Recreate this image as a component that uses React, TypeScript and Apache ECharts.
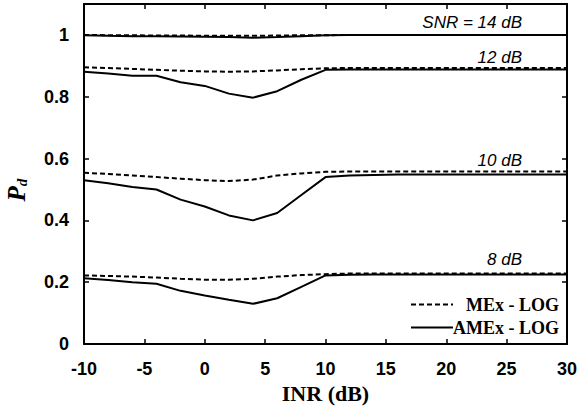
import React, { useEffect, useRef } from "react";
import * as echarts from "echarts";

const inr = [-10, -8, -6, -4, -2, 0, 2, 4, 6, 8, 10, 12, 14, 16, 18, 20, 22, 24, 26, 28, 30];

const mex14 = [1.0, 0.999, 0.999, 0.998, 0.998, 0.997, 0.997, 0.997, 0.998, 0.999, 0.999, 1.0, 1.0, 1.0, 1.0, 1.0, 1.0, 1.0, 1.0, 1.0, 1.0];
const amex14 = [0.999, 0.997, 0.996, 0.996, 0.995, 0.994, 0.993, 0.991, 0.993, 0.996, 0.999, 1.0, 1.0, 1.0, 1.0, 1.0, 1.0, 1.0, 1.0, 1.0, 1.0];

const mex12 = [0.895, 0.893, 0.89, 0.887, 0.884, 0.882, 0.881, 0.882, 0.885, 0.889, 0.892, 0.893, 0.893, 0.893, 0.893, 0.893, 0.893, 0.893, 0.893, 0.893, 0.893];
const amex12 = [0.881, 0.875, 0.868, 0.868, 0.847, 0.835, 0.81, 0.797, 0.818, 0.855, 0.887, 0.888, 0.888, 0.888, 0.888, 0.888, 0.888, 0.888, 0.888, 0.888, 0.888];

const mex10 = [0.554, 0.55, 0.545, 0.54, 0.535, 0.53, 0.527, 0.532, 0.545, 0.552, 0.557, 0.558, 0.558, 0.558, 0.558, 0.558, 0.558, 0.558, 0.558, 0.558, 0.558];
const amex10 = [0.53, 0.52, 0.508, 0.5, 0.467, 0.445, 0.416, 0.4, 0.424, 0.482, 0.54, 0.545, 0.547, 0.548, 0.548, 0.548, 0.548, 0.548, 0.548, 0.548, 0.548];

const mex8 = [0.222, 0.22, 0.218, 0.215, 0.211, 0.208, 0.208, 0.211, 0.218, 0.223, 0.226, 0.228, 0.228, 0.228, 0.228, 0.228, 0.228, 0.228, 0.228, 0.228, 0.228];
const amex8 = [0.213, 0.207, 0.2, 0.195, 0.172, 0.157, 0.143, 0.13, 0.148, 0.185, 0.222, 0.224, 0.225, 0.225, 0.225, 0.225, 0.225, 0.225, 0.225, 0.225, 0.225];

const snrLabels = ["SNR = 14 dB", "12 dB", "10 dB", "8 dB"];
const labelY = [22, 57, 160, 259];

const MEX = "MEx - LOG";
const AMEX = "AMEx - LOG";

export default function App() {
  const ref = useRef<HTMLDivElement>(null);
  useEffect(() => {
    if (!ref.current) return;
    const chart = echarts.init(ref.current, null, { renderer: "svg" });
    const pairs = (ys: number[]) => inr.map((x, i) => [x, ys[i]]);
    const mk = (name: string, ys: number[], dashed: boolean) => ({
      type: "line",
      name,
      data: pairs(ys),
      symbol: "none",
      showSymbol: false,
      color: "#000",
      lineStyle: { color: "#000", width: 2, type: dashed ? [5, 3] : "solid" },
      z: dashed ? 3 : 2,
    });
    const axisCommon = {
      axisLine: { show: true, onZero: false, lineStyle: { color: "#000", width: 2 } },
      axisTick: { show: true, inside: true, length: 5, lineStyle: { color: "#000", width: 1.5 } },
      splitLine: { show: false },
    };
    const labelStyle = {
      fontFamily: "Liberation Sans",
      fontWeight: "bold" as const,
      fontSize: 18,
      color: "#000",
    };
    chart.setOption({
      animation: false,
      grid: { left: 84, right: 10, top: 4, bottom: 66, containLabel: false, outerBoundsMode: "none" },
      legend: {
        orient: "vertical",
        left: 410,
        top: 295.5,
        padding: 0,
        itemWidth: 42,
        itemHeight: 15,
        itemGap: 5,
        itemStyle: { opacity: 0 },
        data: [MEX, AMEX],
        formatter: (n: string) => `{a|${n}}`,
        textStyle: {
          rich: {
            a: {
              width: 101,
              align: "right",
              fontFamily: "Liberation Serif",
              fontWeight: "bold",
              fontSize: 18,
              color: "#000",
              lineHeight: 15,
            },
          },
        },
      },
      xAxis: [
        {
          type: "value",
          min: -10,
          max: 30,
          interval: 5,
          position: "bottom",
          ...axisCommon,
          axisLabel: { ...labelStyle, margin: 16 },
          name: "INR (dB)",
          nameLocation: "middle",
          nameGap: 38,
          nameTextStyle: {
            fontFamily: "Liberation Serif",
            fontWeight: "bold",
            fontSize: 22,
            color: "#000",
          },
        },
        {
          type: "value",
          min: -10,
          max: 30,
          interval: 5,
          position: "top",
          ...axisCommon,
          axisLabel: { show: false },
        },
      ],
      yAxis: [
        {
          type: "value",
          min: 0,
          max: 1.1,
          interval: 0.2,
          position: "left",
          ...axisCommon,
          axisLabel: {
            ...labelStyle,
            margin: 15,
            formatter: (v: number) => (v > 1.05 ? "" : String(Math.round(v * 10) / 10)),
          },
        },
        {
          type: "value",
          min: 0,
          max: 1.1,
          interval: 0.2,
          position: "right",
          ...axisCommon,
          axisLabel: { show: false },
        },
      ],
      series: [
        mk(MEX, mex14, true),
        mk(AMEX, amex14, false),
        mk(MEX, mex12, true),
        mk(AMEX, amex12, false),
        mk(MEX, mex10, true),
        mk(AMEX, amex10, false),
        mk(MEX, mex8, true),
        mk(AMEX, amex8, false),
      ],
      graphic: [
        ...snrLabels.map((t, i) => ({
          type: "text",
          x: 522,
          y: labelY[i],
          style: {
            text: t,
            align: "right",
            verticalAlign: "middle",
            fontFamily: "Liberation Sans",
            fontStyle: "italic",
            fontSize: 17,
            fill: "#000",
          },
        })),
        {
          type: "text",
          x: 16,
          y: 190,
          rotation: Math.PI / 2,
          style: {
            text: "{p|P}{d|d}",
            align: "center",
            verticalAlign: "middle",
            rich: {
              p: {
                fontFamily: "Liberation Serif",
                fontStyle: "italic",
                fontWeight: "bold",
                fontSize: 25,
                fill: "#000",
                lineHeight: 26,
              },
              d: {
                fontFamily: "Liberation Serif",
                fontStyle: "italic",
                fontWeight: "bold",
                fontSize: 15,
                fill: "#000",
                lineHeight: 26,
                verticalAlign: "bottom",
                padding: [10, 0, 0, 0],
              },
            },
          },
        },
      ],
    });
    return () => chart.dispose();
  }, []);
  return (
    <div
      ref={ref}
      style={{ position: "fixed", left: 0, top: 0, width: 577, height: 410, background: "#fff" }}
    />
  );
}
